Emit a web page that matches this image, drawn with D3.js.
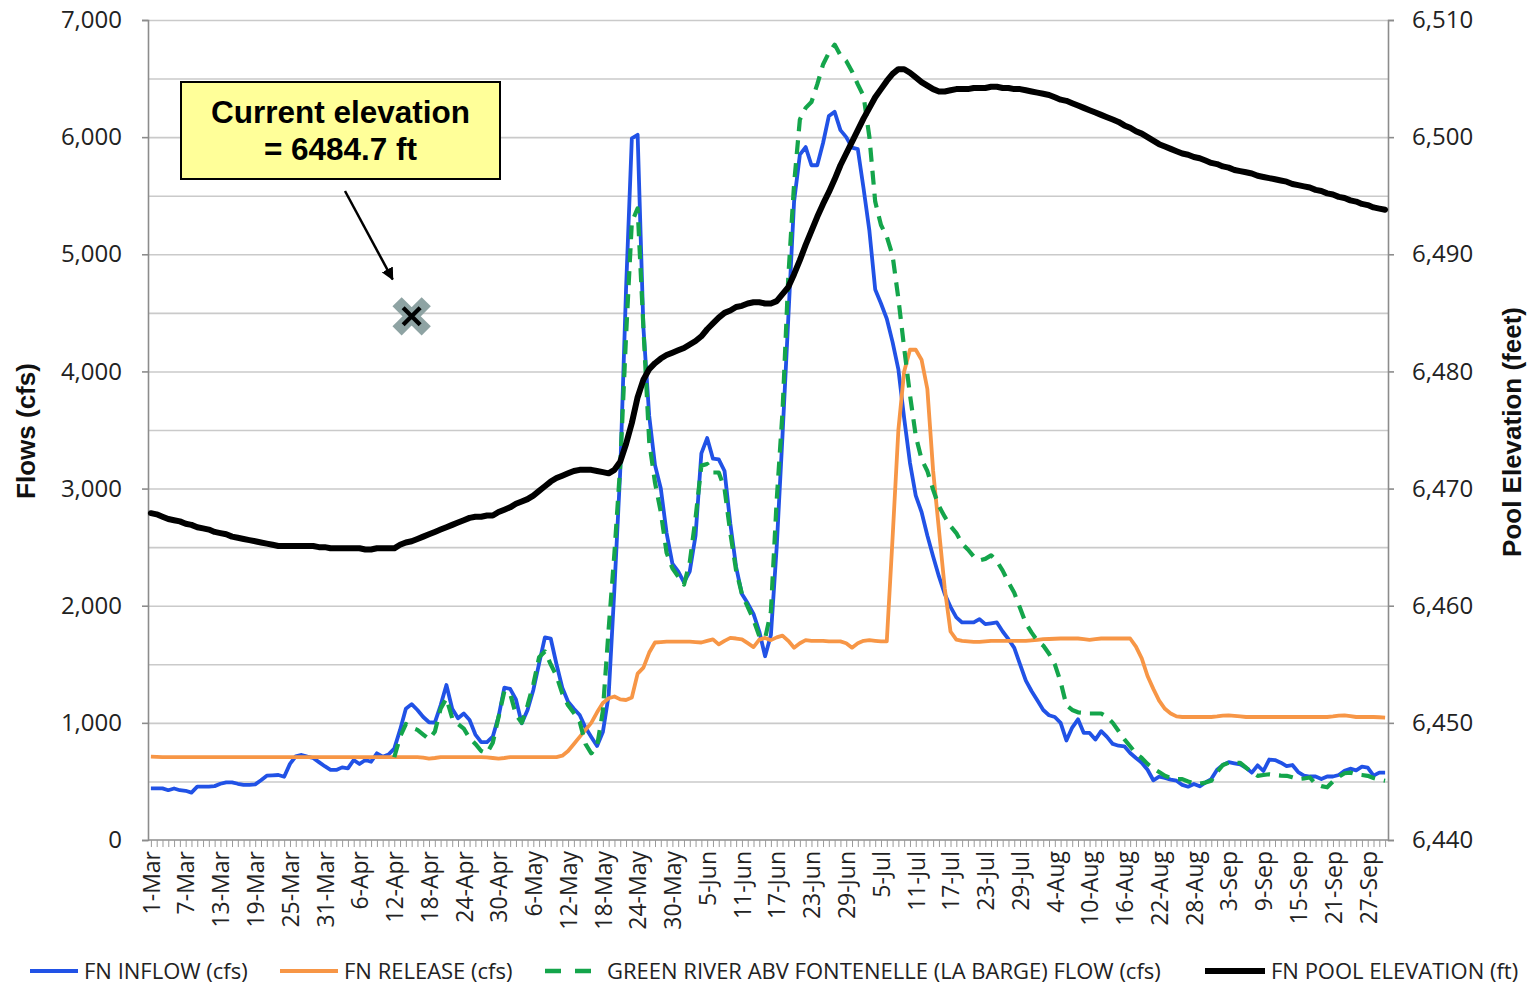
<!DOCTYPE html>
<html>
<head>
<meta charset="utf-8">
<script src="https://cdn.jsdelivr.net/npm/d3@7"></script>
<style>
  html, body { margin: 0; padding: 0; background: #fff; }
  svg { display: block; }
</style>
</head>
<body>
<script>
// ---------------- DATA ----------------
// Daily categories 1-Mar .. 30-Sep
const startDate = new Date(2023, 2, 1);
const endDate = new Date(2023, 9, 1);
const fmtDay = d3.timeFormat("%-d-%b");
const categories = d3.timeDay.range(startDate, endDate).map(fmtDay);

// FN INFLOW (cfs)
const inflow = [
  441,441,441,425,440,425,420,405,455,455,
  455,460,480,492,492,480,470,470,475,510,
  549,552,555,540,650,715,726,712,700,665,
  630,598,598,620,612,683,649,683,668,740,
  711,730,780,940,1120,1160,1110,1050,1005,1002,
  1150,1323,1120,1039,1080,1024,900,835,835,882,
  1053,1300,1290,1200,996,1110,1281,1508,1730,1720,
  1500,1300,1180,1120,1067,960,880,803,921,1235,
  2150,3150,4700,5990,6020,4372,3620,3200,3000,2620,
  2360,2294,2200,2294,2600,3300,3431,3255,3250,3150,
  2700,2330,2100,2020,1930,1780,1569,1750,2500,3450,
  4450,5450,5850,5915,5760,5760,5950,6180,6216,6060,
  6000,5910,5897,5560,5200,4700,4580,4450,4250,4018,
  3600,3220,2940,2800,2600,2420,2250,2100,1990,1900,
  1857,1857,1857,1886,1843,1850,1857,1780,1714,1640,
  1500,1360,1270,1190,1110,1065,1050,1000,850,960,
  1030,914,914,857,929,880,820,805,800,743,
  700,660,600,510,540,530,515,506,470,455,
  478,458,492,520,600,640,665,655,645,617,
  575,637,589,687,682,660,631,640,580,550,
  542,542,520,542,542,555,590,609,595,626,
  617,550,575,575
];

// FN RELEASE (cfs)
const release = [
  712,710,708,707,707,707,707,707,707,707,
  707,707,707,707,707,707,707,707,707,707,
  707,707,707,707,707,707,707,707,707,707,
  707,707,707,707,707,707,707,707,707,707,
  707,707,707,707,707,707,707,703,695,700,
  707,707,707,707,707,707,707,707,705,700,
  695,700,707,707,707,707,707,707,707,707,
  708,720,760,820,880,940,1000,1090,1170,1210,
  1225,1200,1195,1216,1420,1471,1600,1686,1690,1694,
  1694,1694,1694,1694,1690,1686,1700,1713,1670,1700,
  1725,1720,1713,1680,1647,1710,1725,1706,1730,1745,
  1700,1642,1680,1706,1700,1700,1700,1695,1695,1695,
  1680,1642,1680,1700,1706,1700,1695,1695,2580,3500,
  4000,4185,4185,4100,3850,3150,2650,2150,1780,1710,
  1700,1695,1691,1691,1695,1700,1700,1700,1700,1700,
  1700,1700,1705,1708,1714,1716,1718,1720,1720,1720,
  1720,1715,1709,1715,1720,1720,1720,1720,1720,1720,
  1650,1550,1400,1290,1190,1120,1080,1055,1050,1050,
  1050,1050,1050,1050,1055,1062,1064,1060,1055,1050,
  1050,1050,1050,1050,1050,1050,1050,1050,1050,1050,
  1050,1050,1050,1050,1055,1062,1064,1058,1050,1050,
  1050,1050,1048,1045
];

// GREEN RIVER ABV FONTENELLE (LA BARGE) FLOW (cfs) — no data before 12-Apr
const laBarge = [
  null,null,null,null,null,null,null,null,null,null,
  null,null,null,null,null,null,null,null,null,null,
  null,null,null,null,null,null,null,null,null,null,
  null,null,null,null,null,null,null,null,null,null,
  null,null,706,880,990,960,940,900,860,925,
  1120,1210,1040,990,950,870,820,760,740,830,
  1050,1270,1250,1070,1000,1150,1330,1560,1610,1500,
  1400,1250,1150,1085,1010,820,740,800,1100,1800,
  2450,3196,4300,5274,5392,4370,3400,3050,2800,2451,
  2320,2250,2180,2372,2750,3196,3210,3137,3137,3000,
  2620,2300,2100,1990,1880,1740,1720,1950,2900,3650,
  4800,5600,6150,6250,6300,6450,6620,6720,6790,6700,
  6650,6560,6450,6350,6000,5450,5250,5150,4990,4621,
  4200,3800,3450,3250,3150,2990,2850,2760,2680,2620,
  2530,2480,2420,2387,2400,2430,2380,2300,2200,2110,
  1980,1850,1770,1700,1660,1590,1500,1350,1150,1110,
  1090,1085,1080,1080,1080,1050,1000,930,860,800,
  740,700,650,610,580,548,530,520,520,500,
  485,480,490,506,580,640,659,659,659,617,
  580,548,555,561,555,550,548,535,520,525,
  534,478,460,450,500,540,570,575,561,555,
  548,530,515,506
];

// FN POOL ELEVATION (ft)
const poolElev = [
  6467.9,6467.8,6467.6,6467.4,6467.3,6467.2,6467.0,6466.9,6466.7,6466.6,
  6466.5,6466.3,6466.2,6466.1,6465.9,6465.8,6465.7,6465.6,6465.5,6465.4,
  6465.3,6465.2,6465.1,6465.1,6465.1,6465.1,6465.1,6465.1,6465.1,6465.0,
  6465.0,6464.9,6464.9,6464.9,6464.9,6464.9,6464.9,6464.8,6464.8,6464.9,
  6464.9,6464.9,6464.9,6465.2,6465.4,6465.5,6465.7,6465.9,6466.1,6466.3,
  6466.5,6466.7,6466.9,6467.1,6467.3,6467.5,6467.6,6467.6,6467.7,6467.7,
  6468.0,6468.2,6468.4,6468.7,6468.9,6469.1,6469.4,6469.8,6470.2,6470.6,
  6470.9,6471.1,6471.3,6471.5,6471.6,6471.6,6471.6,6471.5,6471.4,6471.3,
  6471.6,6472.3,6473.8,6475.6,6477.8,6479.3,6480.2,6480.7,6481.1,6481.4,
  6481.6,6481.8,6482.0,6482.3,6482.6,6483.0,6483.6,6484.1,6484.6,6485.0,
  6485.2,6485.5,6485.6,6485.8,6485.9,6485.9,6485.8,6485.8,6486.0,6486.6,
  6487.2,6488.3,6489.5,6490.8,6492.0,6493.2,6494.3,6495.3,6496.4,6497.6,
  6498.6,6499.6,6500.6,6501.6,6502.5,6503.4,6504.1,6504.8,6505.4,6505.8,
  6505.8,6505.5,6505.1,6504.7,6504.4,6504.1,6503.9,6503.9,6504.0,6504.1,
  6504.1,6504.1,6504.2,6504.2,6504.2,6504.3,6504.3,6504.2,6504.2,6504.1,
  6504.1,6504.0,6503.9,6503.8,6503.7,6503.6,6503.4,6503.2,6503.1,6502.9,
  6502.7,6502.5,6502.3,6502.1,6501.9,6501.7,6501.5,6501.3,6501.0,6500.8,
  6500.5,6500.3,6500.0,6499.7,6499.4,6499.2,6499.0,6498.8,6498.6,6498.5,
  6498.3,6498.2,6498.0,6497.8,6497.7,6497.5,6497.4,6497.2,6497.1,6497.0,
  6496.9,6496.7,6496.6,6496.5,6496.4,6496.3,6496.2,6496.0,6495.9,6495.8,
  6495.7,6495.5,6495.4,6495.2,6495.1,6494.9,6494.8,6494.6,6494.5,6494.3,
  6494.2,6494.0,6493.9,6493.8
];

// Axis ticks
const flowTicks = [0, 1000, 2000, 3000, 4000, 5000, 6000, 7000];
const flowGrid = [500,1000,1500,2000,2500,3000,3500,4000,4500,5000,5500,6000,6500,7000];
const elevTicks = [6440, 6450, 6460, 6470, 6480, 6490, 6500, 6510];
const xLabelEvery = 6;
const xTickLabels = categories.filter((d, i) => i % xLabelEvery === 0);

// Annotation
const currentElevation = 6484.7;
const currentElevDay = "15-Apr";
const annotationLines = ["Current elevation", "= 6484.7 ft"];

const seriesNames = ["FN INFLOW (cfs)", "FN RELEASE (cfs)",
  "GREEN RIVER ABV FONTENELLE (LA BARGE) FLOW (cfs)", "FN POOL ELEVATION (ft)"];

// ---------------- LAYOUT ----------------
const W = 1531, H = 986;
const L = 148, R = 1388, T = 20, B = 840;
const BLUE = "#2152e6", ORANGE = "#f79646", GREEN = "#14a54b", BLACK = "#000";
const FONT = "'Open Sans', sans-serif";

const svg = d3.select("body").append("svg").attr("width", W).attr("height", H)
  .style("font-family", FONT);

const x = d3.scalePoint().domain(categories).range([L, R]).padding(0.5);
const y = d3.scaleLinear().domain([0, 7000]).range([B, T]);
const yR = d3.scaleLinear().domain([6440, 6510]).range([B, T]);

// gridlines
svg.append("g")
  .attr("transform", `translate(${L},0)`)
  .call(d3.axisLeft(y).tickValues(flowGrid).tickSize(-(R - L)).tickFormat(""))
  .call(g => g.select(".domain").remove())
  .call(g => g.selectAll("line").attr("stroke", "#cacaca").attr("stroke-width", 1.6));

// left axis
const gl = svg.append("g").attr("transform", `translate(${L},0)`)
  .call(d3.axisLeft(y).tickValues(flowTicks).tickSize(6).tickPadding(20).tickFormat(d3.format(",")));
gl.select(".domain").attr("stroke", "#8c8c8c").attr("stroke-width", 1.6);
gl.selectAll(".tick line").attr("stroke", "#8c8c8c").attr("stroke-width", 1.6);
gl.selectAll("text").attr("font-size", 24).attr("fill", "#222").attr("font-family", FONT);

// right axis
const gr = svg.append("g").attr("transform", `translate(${R},0)`)
  .call(d3.axisRight(yR).tickValues(elevTicks).tickSize(6).tickPadding(18).tickFormat(d3.format(",")));
gr.select(".domain").attr("stroke", "#8c8c8c").attr("stroke-width", 1.6);
gr.selectAll(".tick line").attr("stroke", "#8c8c8c").attr("stroke-width", 1.6);
gr.selectAll("text").attr("font-size", 24).attr("fill", "#222").attr("font-family", FONT);

// bottom axis with daily minor ticks
const gx = svg.append("g").attr("transform", `translate(0,${B})`)
  .call(d3.axisBottom(x).tickSize(7).tickSizeOuter(0)
    .tickFormat((d, i) => (i % xLabelEvery === 0 ? d : "")));
gx.select(".domain").attr("stroke", "#8c8c8c").attr("stroke-width", 1.6)
  .attr("d", `M${L},0H${R}`);
gx.selectAll(".tick line").attr("stroke", "#9a9a9a").attr("stroke-width", 1);
gx.selectAll(".tick text")
  .attr("font-size", 23).attr("fill", "#222").attr("font-family", FONT)
  .attr("transform", "rotate(-90)")
  .attr("text-anchor", "end")
  .attr("x", -11).attr("y", 0).attr("dy", "0.36em");

// axis titles
svg.append("text")
  .attr("transform", `translate(35,${(T + B) / 2 + 1}) rotate(-90)`)
  .attr("text-anchor", "middle")
  .attr("font-family", "'Liberation Sans', Arial, sans-serif")
  .attr("font-weight", "bold").attr("font-size", 26).attr("fill", "#111")
  .text("Flows (cfs)");
svg.append("text")
  .attr("transform", `translate(1521,${(T + B) / 2 + 2}) rotate(-90)`)
  .attr("text-anchor", "middle")
  .attr("font-family", "'Liberation Sans', Arial, sans-serif")
  .attr("font-weight", "bold").attr("font-size", 26).attr("fill", "#111")
  .text("Pool Elevation (feet)");

// ---------------- SERIES ----------------
const plot = svg.append("g");
const lineL = d3.line().defined(d => d.v != null).x(d => x(d.c)).y(d => y(d.v));
const lineR = d3.line().x(d => x(d.c)).y(d => yR(d.v));
const pack = arr => arr.map((v, i) => ({ c: categories[i], v }));

plot.append("path").datum(pack(inflow)).attr("d", lineL)
  .attr("fill", "none").attr("stroke", BLUE).attr("stroke-width", 3.8)
  .attr("stroke-linejoin", "round");
plot.append("path").datum(pack(release)).attr("d", lineL)
  .attr("fill", "none").attr("stroke", ORANGE).attr("stroke-width", 3.8)
  .attr("stroke-linejoin", "round");
plot.append("path").datum(pack(laBarge)).attr("d", lineL)
  .attr("fill", "none").attr("stroke", GREEN).attr("stroke-width", 4.2)
  .attr("stroke-dasharray", "14,9").attr("stroke-linejoin", "round");
plot.append("path").datum(pack(poolElev)).attr("d", lineR)
  .attr("fill", "none").attr("stroke", BLACK).attr("stroke-width", 6)
  .attr("stroke-linejoin", "round").attr("stroke-linecap", "round");

// ---------------- ANNOTATION ----------------
const mx = x(currentElevDay), my = yR(currentElevation);
const ann = svg.append("g");
ann.append("rect").attr("x", 181).attr("y", 82).attr("width", 319).attr("height", 97)
  .attr("fill", "#ffff99").attr("stroke", "#000").attr("stroke-width", 2);
ann.selectAll("text.ann").data(annotationLines).join("text")
  .attr("class", "ann")
  .attr("x", 340.5).attr("y", (d, i) => 123 + i * 37)
  .attr("text-anchor", "middle")
  .attr("font-family", "'Liberation Sans', Arial, sans-serif")
  .attr("font-weight", "bold").attr("font-size", 31.5).attr("fill", "#000")
  .text(d => d);

svg.append("defs").append("marker")
  .attr("id", "arrow").attr("viewBox", "0 0 10 10").attr("refX", 9).attr("refY", 5)
  .attr("markerWidth", 5).attr("markerHeight", 5).attr("orient", "auto")
  .append("path").attr("d", "M0,0 L10,5 L0,10 z").attr("fill", "#000");
ann.append("line")
  .attr("x1", 345).attr("y1", 191).attr("x2", mx - 19).attr("y2", my - 37)
  .attr("stroke", "#000").attr("stroke-width", 2.5).attr("marker-end", "url(#arrow)");

// X marker
const xs = 10;
const xPath = `M${mx - xs},${my - xs}L${mx + xs},${my + xs}M${mx - xs},${my + xs}L${mx + xs},${my - xs}`;
ann.append("path").attr("d", xPath).attr("stroke", "#8ea3a3").attr("stroke-width", 13)
  .attr("stroke-linecap", "square").attr("fill", "none");
ann.append("path").attr("d", xPath).attr("stroke", "#000").attr("stroke-width", 5)
  .attr("stroke-linecap", "butt").attr("fill", "none")
  .attr("transform", `translate(${mx},${my}) scale(0.85) translate(${-mx},${-my})`);

// ---------------- LEGEND ----------------
const legendY = 971;
const legendItems = [
  { name: seriesNames[0], color: BLUE, x0: 30, x1: 78, w: 4, dash: null },
  { name: seriesNames[1], color: ORANGE, x0: 280, x1: 338, w: 4, dash: null },
  { name: seriesNames[2], color: GREEN, x0: 545, x1: 601, w: 4.5, dash: "16,14" },
  { name: seriesNames[3], color: BLACK, x0: 1205, x1: 1265, w: 6, dash: null }
];
const lg = svg.append("g");
legendItems.forEach(it => {
  lg.append("line").attr("x1", it.x0).attr("x2", it.x1).attr("y1", legendY).attr("y2", legendY)
    .attr("stroke", it.color).attr("stroke-width", it.w)
    .attr("stroke-dasharray", it.dash);
  lg.append("text").attr("x", it.x1 + 6).attr("y", legendY).attr("dy", "0.35em")
    .attr("font-size", 22).attr("fill", "#222").attr("font-family", FONT)
    .text(it.name);
});
</script>
</body>
</html>
